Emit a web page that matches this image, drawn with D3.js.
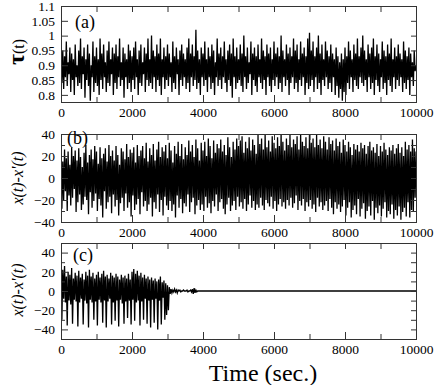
<!DOCTYPE html>
<html>
<head>
<meta charset="utf-8">
<style>
    body { margin: 0; background: #fff; }
    svg text { font-family: "Liberation Serif", "DejaVu Serif", serif; }
    .axis path { display: none; }
    .axis line { stroke: #333; }
    .axis text { font-size: 13.5px; fill: #000; }
    .trace { fill: none; stroke: #000; stroke-width: 1.3; }
</style>
</head>
<body>
<svg width="436" height="385"></svg>
<script src="https://d3js.org/d3.v7.min.js"></script>
<script>
// sampling step of the traces (sec.)
var dt = 25;

// (a) tau(t)
var tauVals = [
  .97,.84,.95,.82,.93,.86,.98,.83,.91,.87,.96,.81,.94,.85,.92,.80,.97,.86,.90,.83,
  .95,.84,.99,.82,.93,.87,.96,.79,.92,.85,.97,.83,.94,.78,.90,.86,.98,.81,.93,.84,
  .96,.83,.92,.80,.99,.85,.94,.82,.97,.86,.91,.81,.95,.84,.98,.83,.92,.87,.96,.80,
  .94,.84,.97,.82,.93,.86,.99,.83,.91,.85,.96,.79,.94,.86,.92,.82,.97,.84,.95,.81,
  .93,.85,.96,.82,.98,.86,.92,.80,.95,.84,.97,.83,.91,.87,.96,.81,.94,.85,.99,.83,
  .92,.84,1.0,.82,.95,.86,.93,.81,.97,.85,.94,.83,.99,.80,.92,.86,.96,.82,.93,.85,
  .97,.83,.94,.86,.91,.81,.98,.84,.93,.82,.96,.87,.92,.80,.95,.85,.97,.83,.94,.86,
  .92,.82,.96,.84,.99,.81,.94,.86,.97,.83,.93,.85,1.02,.82,.95,.84,.92,.80,.96,.86,
  .94,.83,.98,.85,.92,.81,.96,.86,.93,.82,.97,.84,.95,.80,.91,.86,.99,.83,.94,.85,
  .96,.82,.93,.86,.98,.84,.92,.81,.95,.85,.97,.83,.94,.79,.99,.86,.93,.82,.96,.84,
  .92,.85,.97,.83,.94,.81,1.0,.86,.93,.82,.96,.84,.91,.87,.98,.80,.94,.85,.96,.83,
  .93,.81,.97,.86,.92,.84,.99,.82,.95,.85,.93,.80,.97,.86,.94,.83,.96,.81,.92,.85,
  .98,.83,.94,.86,.96,.82,.93,.84,1.0,.81,.95,.86,.92,.83,.97,.85,.94,.80,.96,.84,
  .93,.86,.99,.82,.95,.84,.97,.81,.92,.85,.98,.83,.94,.86,.96,.80,.93,.84,.99,.82,
  1.01,.83,.95,.85,.98,.81,.93,.86,.96,.82,1.0,.84,.94,.80,.97,.85,.92,.83,.98,.86,
  .95,.82,.93,.84,.97,.81,.94,.86,.92,.80,.96,.83,.93,.79,.91,.82,.94,.78,.92,.81,
  .96,.80,.93,.84,.98,.82,.95,.86,.92,.81,.97,.85,.94,.83,.99,.82,.93,.86,.96,.84,
  1.0,.83,.95,.85,.92,.81,.97,.86,.94,.82,.96,.84,.99,.80,.93,.85,.97,.83,.94,.81,
  .92,.86,.98,.82,.95,.84,.93,.80,.97,.85,.94,.83,.99,.81,.92,.86,.96,.82,.93,.85,
  .97,.83,.94,.86,.92,.81,.98,.84,.95,.82,.93,.85,.96,.80,.94,.86,.91,.83,.95,.88,
  .90
];

// (b) x(t)-x'(t), coupled case
var diffB = [
  22,-28,15,-20,26,-12,18,-30,24,-16,12,-25,28,-18,20,-10,25,-31,16,-22,
  27,-15,19,-29,10,-24,23,-17,30,-20,14,-33,21,-13,26,-27,17,-21,29,-14,
  24,-30,13,-19,28,-25,18,-36,22,-12,27,-28,15,-22,30,-17,20,-32,25,-15,
  16,-26,29,-20,21,-34,12,-23,27,-18,24,-30,17,-14,31,-27,19,-22,26,-35,
  23,-16,28,-29,14,-24,30,-19,20,-33,25,-13,29,-26,18,-21,32,-30,15,-24,
  27,-18,21,-35,31,-22,16,-28,26,-15,33,-31,19,-20,28,-34,24,-17,30,-25,
  18,-29,32,-21,25,-30,14,-24,29,-36,22,-16,33,-27,20,-19,31,-32,17,-23,
  28,-26,21,-15,34,-31,24,-22,30,-18,19,-33,35,-25,27,-20,16,-29,32,-24,
  25,-30,33,-17,20,-27,36,-23,29,-32,18,-21,34,-26,23,-15,31,-30,27,-22,
  35,-19,24,-28,30,-33,21,-24,37,-18,28,-30,19,-25,33,-21,26,-29,36,-17,
  29,-26,34,-22,38,-28,23,-19,33,-30,27,-24,37,-16,25,-27,35,-21,30,-29,
  22,-24,39,-27,31,-18,36,-25,26,-29,40,-20,28,-23,34,-26,24,-17,38,-28,
  32,-21,27,-30,37,-24,29,-19,41,-26,33,-22,25,-28,36,-20,30,-25,39,-18,
  28,-27,35,-23,31,-16,38,-29,26,-21,40,-25,33,-19,29,-30,37,-22,27,-26,
  41,-20,32,-28,36,-24,28,-31,39,-18,30,-26,35,-22,27,-29,38,-25,33,-21,
  26,-30,37,-19,31,-27,34,-33,25,-22,36,-28,29,-24,33,-31,23,-26,35,-20,
  30,-34,24,-27,33,-22,28,-36,21,-29,31,-25,26,-33,30,-19,24,-35,32,-28,
  27,-23,30,-37,22,-30,29,-26,33,-34,25,-21,28,-38,23,-27,31,-32,20,-25,
  29,-35,24,-28,32,-22,26,-36,21,-30,28,-33,25,-24,30,-37,22,-29,27,-34,
  31,-26,23,-38,28,-31,20,-27,33,-35,26,-22,30,-36,24,-29,35,-30,27,-18,
  24
];

// (c) x(t)-x'(t), synchronising case (first 4000 s, then flat)
var diffC = [
  18,-30,22,-8,26,-12,15,-36,20,-10,17,-14,24,-34,13,-9,19,-11,16,-37,
  21,-12,14,-8,18,-35,12,-10,20,-13,16,-38,22,-9,15,-12,19,-30,13,-11,
  17,-36,20,-9,14,-12,18,-33,21,-10,15,-38,17,-11,13,-8,19,-35,16,-12,
  14,-31,18,-10,15,-37,12,-9,17,-13,14,-34,16,-11,13,-28,18,-10,12,-35,
  20,-9,23,-31,18,-12,21,-10,16,-36,19,-11,14,-30,17,-8,13,-34,15,-10,
  12,-38,14,-9,11,-33,13,-8,10,-40,12,-10,15,-35,9,-7,11,-30,8,-25,
  6,-20,4,-3,2,-2,1,-1,2,-1,1,-2,1,0,1,-1,0,0,1,0,
  0,0,1,-1,0,0,1,-1,2,-3,3,-2,1,-1,0,0,0,0,0,0,
  0
];
var tailT = [10000];
var tailV = [0];

// axis ticks
var xMajor = [0, 2000, 4000, 6000, 8000, 10000];
var xMinor = [1000, 3000, 5000, 7000, 9000];
var tauTicks = [0.8, 0.85, 0.9, 0.95, 1, 1.05, 1.1];
var diffTicks = [-40, -20, 0, 20, 40];
var diffMinor = [-30, -10, 10, 30];

var serif = "Liberation Serif, DejaVu Serif, serif";
var svg = d3.select("svg").attr("font-family", serif);
var x = d3.scaleLinear().domain([0, 10000]).range([61, 416]);

function series(vals) {
    return vals.map(function(v, i) { return [i * dt, v]; });
}

var cPoints = series(diffC).concat(tailT.map(function(t, i) { return [t, tailV[i]]; }));

var panels = [
    { id: "a", top: 6, bottom: 102, domain: [0.776, 1.1], pts: series(tauVals),
      major: tauTicks, minor: [], label: "(a)", lx: 75, ly: 28 },
    { id: "b", top: 134, bottom: 222, domain: [-40, 40], pts: series(diffB),
      major: diffTicks, minor: diffMinor, label: "(b)", lx: 67, ly: 144 },
    { id: "c", top: 243, bottom: 339, domain: [-50, 50], pts: cPoints,
      major: diffTicks, minor: diffMinor, label: "(c)", lx: 73, ly: 261 }
];

var fmt = d3.format("~g");

function addAxis(transform, axis) {
    svg.append("g").attr("class", "axis")
        .attr("transform", transform)
        .call(axis)
        .attr("font-family", serif);
}

panels.forEach(function(p) {
    var y = d3.scaleLinear().domain(p.domain).range([p.bottom, p.top]);

    svg.append("clipPath").attr("id", "clip-" + p.id)
        .append("rect")
        .attr("x", 61).attr("y", p.top)
        .attr("width", 355).attr("height", p.bottom - p.top);

    svg.append("path")
        .datum(p.pts)
        .attr("class", "trace")
        .attr("clip-path", "url(#clip-" + p.id + ")")
        .attr("d", d3.line().x(d => x(d[0])).y(d => y(d[1])));

    // frame
    svg.append("rect")
        .attr("x", 61.5).attr("y", p.top + 0.5)
        .attr("width", 355).attr("height", p.bottom - p.top)
        .attr("fill", "none").attr("stroke", "#333");

    // x axes, labels on the bottom only
    addAxis("translate(0," + p.bottom + ")",
        d3.axisBottom(x).tickValues(xMajor).tickFormat(fmt)
            .tickSizeInner(-7).tickSizeOuter(0).tickPadding(5));
    addAxis("translate(0," + p.bottom + ")",
        d3.axisBottom(x).tickValues(xMinor).tickFormat("")
            .tickSizeInner(-5).tickSizeOuter(0));
    addAxis("translate(0," + p.top + ")",
        d3.axisTop(x).tickValues(xMajor.concat(xMinor)).tickFormat("")
            .tickSizeInner(-6).tickSizeOuter(0));

    // y axes
    addAxis("translate(61,0)",
        d3.axisLeft(y).tickValues(p.major).tickFormat(fmt)
            .tickSizeInner(-7).tickSizeOuter(0).tickPadding(6));
    addAxis("translate(61,0)",
        d3.axisLeft(y).tickValues(p.minor).tickFormat("")
            .tickSizeInner(-4).tickSizeOuter(0));
    addAxis("translate(416,0)",
        d3.axisRight(y).tickValues(p.major.concat(p.minor)).tickFormat("")
            .tickSizeInner(-5).tickSizeOuter(0));

    svg.append("text")
        .attr("x", p.lx).attr("y", p.ly)
        .attr("font-size", 18)
        .text(p.label);
});

// y titles
var tauTitle = svg.append("text")
    .attr("transform", "translate(24,52) rotate(-90)")
    .attr("text-anchor", "middle");
tauTitle.append("tspan").attr("font-size", 24).attr("font-weight", "bold").text("τ");
tauTitle.append("tspan").attr("font-size", 16).text("(t)");

[178, 290].forEach(function(cy) {
    svg.append("text")
        .attr("transform", "translate(23," + cy + ") rotate(-90)")
        .attr("text-anchor", "middle")
        .attr("font-size", 16)
        .attr("font-style", "italic")
        .text("x(t)-x'(t)");
});

svg.append("text")
    .attr("x", 263).attr("y", 381)
    .attr("text-anchor", "middle")
    .attr("font-size", 24)
    .text("Time (sec.)");
</script>
</body>
</html>
